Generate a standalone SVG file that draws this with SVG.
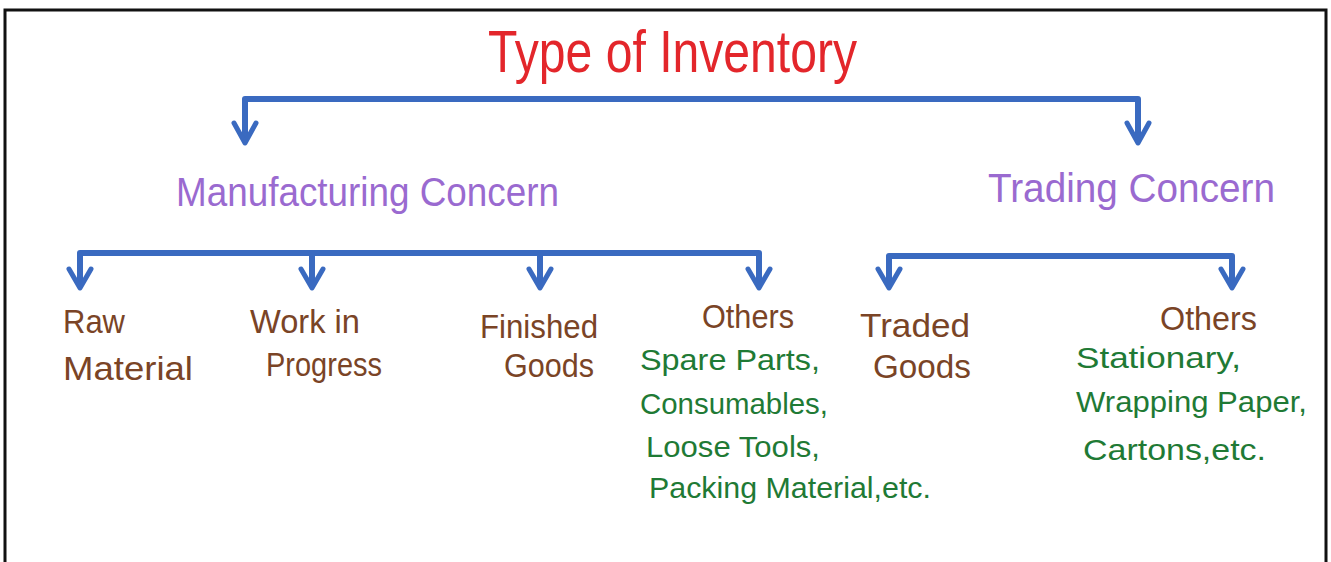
<svg xmlns="http://www.w3.org/2000/svg" width="1331" height="562" viewBox="0 0 1331 562">
<style>
.t{font-family:"Liberation Sans","DejaVu Sans",sans-serif}
.title{fill:#e3262b;font-size:60px}
.cat{fill:#9a6ad0;font-size:40px}
.leaf{fill:#7a4426;font-size:33px}
.ex{fill:#1f7a35;font-size:30px}
.bar{fill:none;stroke:#3a6ac0;stroke-width:6;stroke-linecap:square;stroke-linejoin:round}
.head{fill:none;stroke:#3a6ac0;stroke-width:5;stroke-linecap:round;stroke-linejoin:round}
</style>
<rect x="0" y="0" width="1331" height="562" fill="#ffffff"/>
<rect x="5" y="10" width="1321" height="570" fill="none" stroke="#111" stroke-width="3"/>

<g id="connectors">
<path class="bar" d="M245 140 V99 H1138 V140"/>
<path class="bar" d="M80 285 V253 H759 V285"/>
<path class="bar" d="M312 253 V285"/>
<path class="bar" d="M540 253 V285"/>
<path class="bar" d="M889 285 V256 H1232 V285"/>
<g class="head">
<path d="M234 123 L245 143 L256 123"/>
<path d="M1127 123 L1138 143 L1149 123"/>
<path d="M69 269 L80 288 L91 269"/>
<path d="M301 269 L312 288 L323 269"/>
<path d="M529 269 L540 288 L551 269"/>
<path d="M748 269 L759 288 L770 269"/>
<path d="M878 269 L889 288 L900 269"/>
<path d="M1221 269 L1232 288 L1243 269"/>
</g>
</g>

<g id="title"><text class="t title" x="488" y="72" textLength="369" lengthAdjust="spacingAndGlyphs">Type of Inventory</text></g>
<g id="manufacturing"><text class="t cat" x="176" y="206" textLength="383" lengthAdjust="spacingAndGlyphs">Manufacturing Concern</text></g>
<g id="trading"><text class="t cat" x="988" y="202" textLength="287" lengthAdjust="spacingAndGlyphs">Trading Concern</text></g>

<g id="raw-material">
<text class="t leaf" x="63" y="333" textLength="62" lengthAdjust="spacingAndGlyphs">Raw</text>
<text class="t leaf" x="63" y="380" textLength="130" lengthAdjust="spacingAndGlyphs">Material</text>
</g>
<g id="wip">
<text class="t leaf" x="250" y="333" textLength="110" lengthAdjust="spacingAndGlyphs">Work in</text>
<text class="t leaf" x="266" y="376" textLength="116" lengthAdjust="spacingAndGlyphs">Progress</text>
</g>
<g id="finished-goods">
<text class="t leaf" x="480" y="338" textLength="118" lengthAdjust="spacingAndGlyphs">Finished</text>
<text class="t leaf" x="504" y="377" textLength="90" lengthAdjust="spacingAndGlyphs">Goods</text>
</g>
<g id="mfg-others">
<text class="t leaf" x="702" y="328" textLength="92" lengthAdjust="spacingAndGlyphs">Others</text>
<text class="t ex" x="640" y="370" textLength="180" lengthAdjust="spacingAndGlyphs">Spare Parts,</text>
<text class="t ex" x="640" y="414" textLength="188" lengthAdjust="spacingAndGlyphs">Consumables,</text>
<text class="t ex" x="646" y="457" textLength="174" lengthAdjust="spacingAndGlyphs">Loose Tools,</text>
<text class="t ex" x="649" y="498" textLength="282" lengthAdjust="spacingAndGlyphs">Packing Material,etc.</text>
</g>
<g id="traded-goods">
<text class="t leaf" x="860" y="337" textLength="110" lengthAdjust="spacingAndGlyphs">Traded</text>
<text class="t leaf" x="873" y="378" textLength="98" lengthAdjust="spacingAndGlyphs">Goods</text>
</g>
<g id="trading-others">
<text class="t leaf" x="1160" y="330" textLength="97" lengthAdjust="spacingAndGlyphs">Others</text>
<text class="t ex" x="1076" y="368" textLength="165" lengthAdjust="spacingAndGlyphs">Stationary,</text>
<text class="t ex" x="1076" y="412" textLength="231" lengthAdjust="spacingAndGlyphs">Wrapping Paper,</text>
<text class="t ex" x="1083" y="460" textLength="183" lengthAdjust="spacingAndGlyphs">Cartons,etc.</text>
</g>
</svg>
